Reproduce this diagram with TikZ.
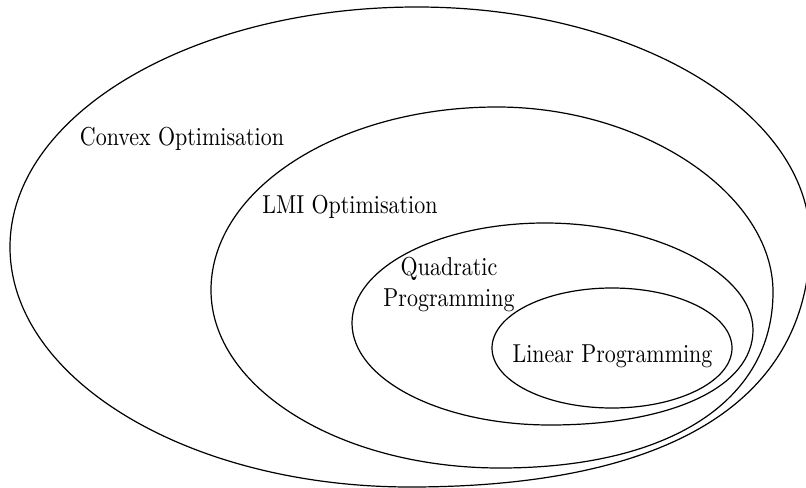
\documentclass[tikz,border=0pt]{standalone}
\begin{document}
\begin{tikzpicture}[x=0.455pt,y=-0.455pt,
  setline/.style={draw=black,line width=0.55pt},
  setlabel/.style={inner sep=0pt,font=\normalsize}]
\useasboundingbox (0,0) rectangle (806,488);
% Convex Optimisation (outer)
\draw[setline] (10,247) .. controls (10,114.5) and (192.3,7) .. (417,7)
  .. controls (633.9,7) and (810,111.4) .. (810,240)
  .. controls (810,400.6) and (670,487) .. (410,487)
  .. controls (189.2,487) and (10,379.5) .. cycle;
% LMI Optimisation
\draw[setline] (211,290) .. controls (211,189) and (339.1,107) .. (497,107)
  .. controls (643.3,107) and (773,194) .. (773,292)
  .. controls (773,401.1) and (669.3,468) .. (500,468)
  .. controls (340.5,468) and (211,388.3) .. cycle;
% Quadratic Programming
\draw[setline] (352,323) .. controls (352,267.8) and (438.5,223) .. (545,223)
  .. controls (655.2,223) and (753,273.3) .. (753,330)
  .. controls (753,387) and (671.8,425) .. (550,425)
  .. controls (440.7,425) and (352,379.3) .. cycle;
% Linear Programming
\draw[setline] (612,348) ellipse [x radius=120, y radius=60];
\node[setlabel] (convex) at (182,139) {\scalebox{1}[1.18]{Convex Optimisation}};
\node[setlabel] (lmi) at (350,207) {\scalebox{1}[1.18]{LMI Optimisation}};
\node[setlabel] (quad) at (449,285) {\scalebox{1}[1.18]{\begin{tabular}{@{}c@{}}Quadratic\\Programming\end{tabular}}};
\node[setlabel] (linear) at (612.5,356) {\scalebox{1}[1.18]{Linear Programming}};
\end{tikzpicture}
\end{document}
